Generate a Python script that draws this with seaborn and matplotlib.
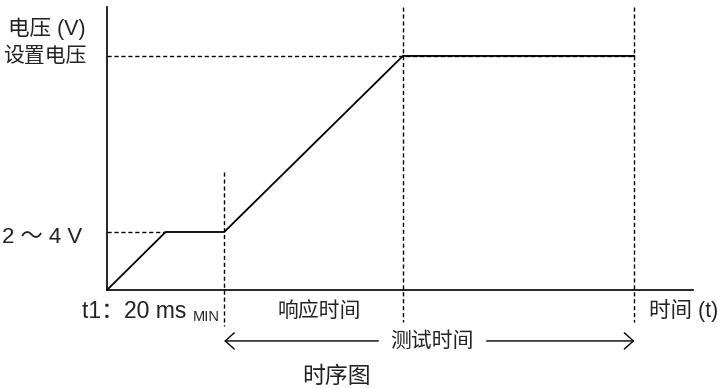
import matplotlib
matplotlib.use("Agg")
import matplotlib.pyplot as plt
import seaborn as sns
import pandas as pd

# --- data (arbitrary units: time 0..10, voltage 0..10) ---
time_pts = [0, 1.0, 2.0, 5.05, 9.0]
volt_pts = [0, 2.05, 2.05, 8.27, 8.27]
v_low = 2.05
v_set = 8.27
t_min = 2.0        # end of t1 (20 ms MIN)
t_resp = 5.05      # end of response time
t_test = 9.0       # end of test time

axis_labels = {"y": "电压 (V)", "x": "时间 (t)"}
level_labels = ["2 ～ 4 V", "设置电压"]
span_labels = ["t1：20 ms", "MIN", "响应时间", "测试时间"]
title = "时序图"

sns.set_style("white")
plt.rcParams["font.family"] = ["Liberation Sans", "Noto Sans CJK SC", "DejaVu Sans"]

fig = plt.figure(figsize=(7.18, 3.88), dpi=100)
ax = fig.add_axes([107 / 718, 98 / 388, 586 / 718, 283 / 388])

df = pd.DataFrame({"t": time_pts, "v": volt_pts})
sns.lineplot(data=df, x="t", y="v", ax=ax, color="black", lw=1.3, sort=False)

ax.set_xlim(0, 10)
ax.set_ylim(0, 10)
ax.set_xticks([])
ax.set_yticks([])
ax.set_xlabel("")
ax.set_ylabel("")
sns.despine(ax=ax)
for s in ["left", "bottom"]:
    ax.spines[s].set_color("black")
    ax.spines[s].set_linewidth(1.2)

dash = dict(color="black", lw=1.0, ls=(0, (3, 2)), clip_on=False)
# horizontal guide lines
ax.plot([0, 1.0], [v_low, v_low], **dash)
ax.plot([0, t_test], [v_set, v_set], **dash)
# vertical guide lines
ax.plot([t_min, t_min], [4.17, -1.27], **dash)
ax.plot([t_resp, t_resp], [10, -1.13], **dash)
ax.plot([t_test, t_test], [10, -1.13], **dash)

# test time arrows
arr = dict(arrowstyle="->,head_length=0.5,head_width=0.45", color="black", lw=1.0,
           mutation_scale=13, shrinkA=0, shrinkB=0)
ax.annotate("", xy=(t_min, -1.8), xytext=(4.63, -1.8), arrowprops=arr, annotation_clip=False)
ax.annotate("", xy=(t_test, -1.8), xytext=(6.48, -1.8), arrowprops=arr, annotation_clip=False)

tc = "#222222"
ax.text(-0.36, 9.22, axis_labels["y"], ha="right", va="center", fontsize=15.5, color=tc)
ax.text(-0.34, v_set, level_labels[1], ha="right", va="center", fontsize=15, color=tc)
ax.text(-0.43, 1.87, level_labels[0], ha="right", va="center", fontsize=16, color=tc)
ax.text(-0.43, -0.74, span_labels[0], ha="left", va="center", fontsize=16.5, color=tc)
ax.text(1.47, -0.95, span_labels[1], ha="left", va="center", fontsize=10.5, color=tc)
ax.text(3.62, -0.74, span_labels[2], ha="center", va="center", fontsize=15, color=tc)
ax.text(5.55, -1.8, span_labels[3], ha="center", va="center", fontsize=15, color=tc)
ax.text(9.25, -0.74, axis_labels["x"], ha="left", va="center", fontsize=15.5, color=tc)
ax.text(3.92, -3.04, title, ha="center", va="center", fontsize=16.5, color=tc)

fig.savefig("out.png", dpi=100)
